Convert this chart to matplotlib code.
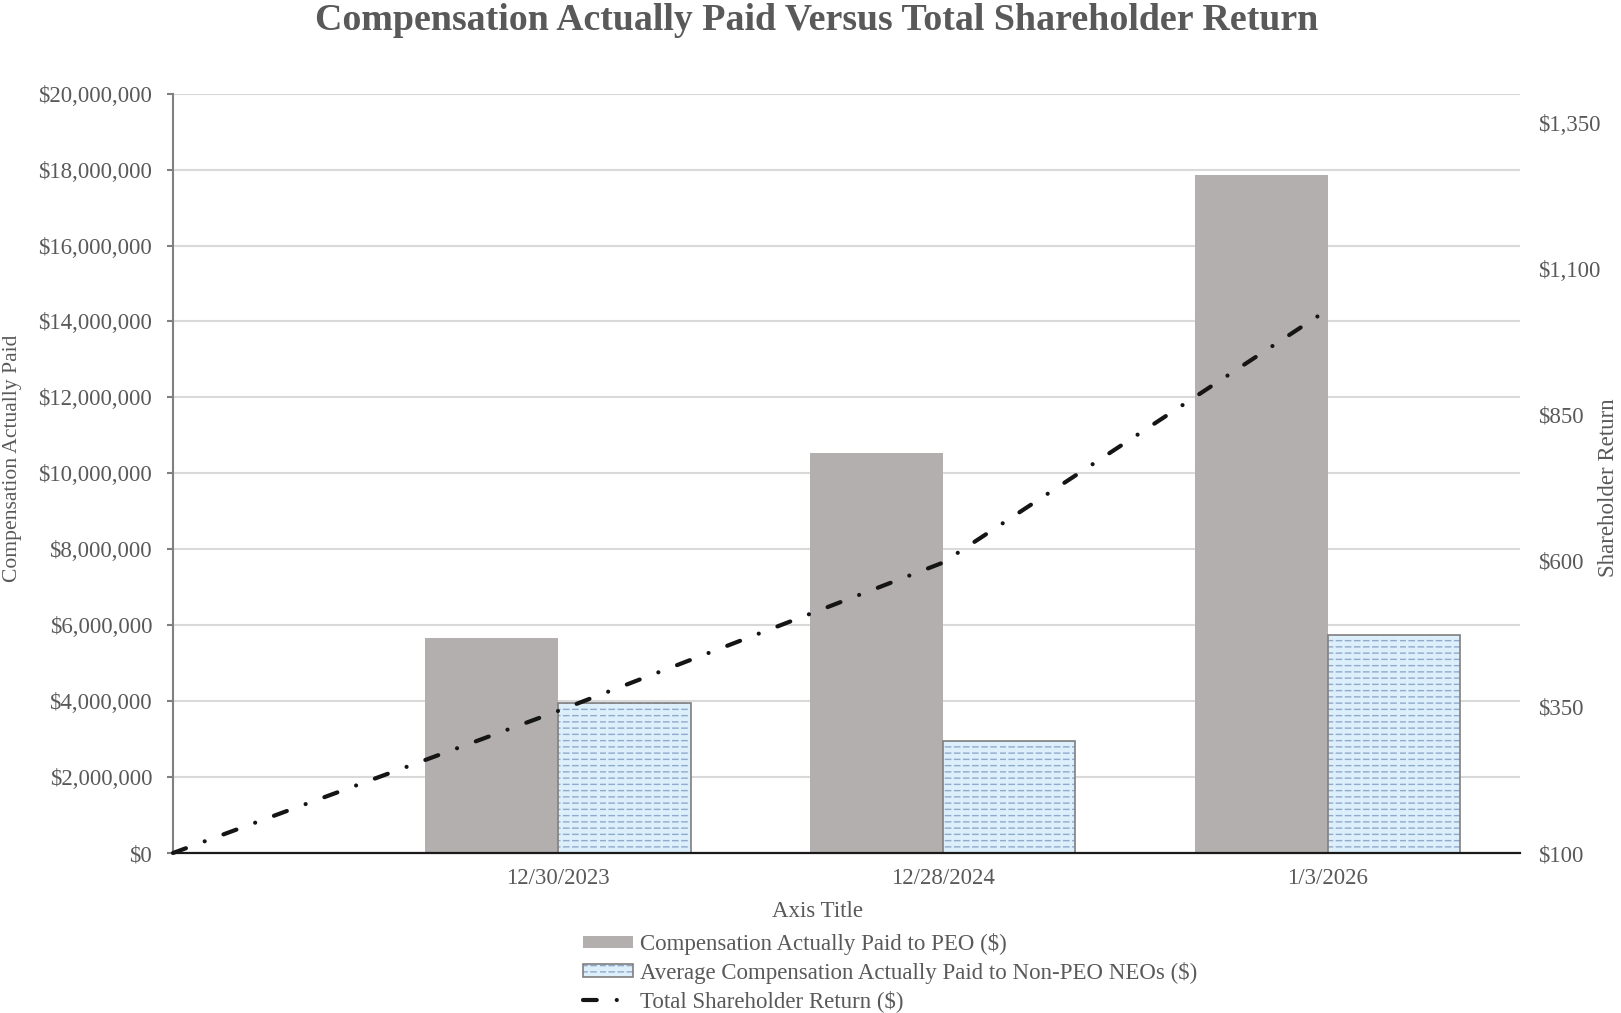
import numpy as np
import matplotlib
matplotlib.use("Agg")
import matplotlib.pyplot as plt
import matplotlib.hatch as mhatch
from matplotlib.path import Path
from matplotlib.patches import Patch
from matplotlib.lines import Line2D
from matplotlib.ticker import FuncFormatter, MultipleLocator

# ---------------- data ----------------
categories = ["12/30/2023", "12/28/2024", "1/3/2026"]
peo_cap = [5670000, 10540000, 17870000]
non_peo_cap = [3950000, 2940000, 5750000]
tsr_labels = ["Base", "12/30/2023", "12/28/2024", "1/3/2026"]
tsr_values = [100, 343, 597, 1030]

series_names = [
    "Compensation Actually Paid to PEO ($)",
    "Average Compensation Actually Paid to Non-PEO NEOs ($)",
    "Total Shareholder Return ($)",
]

# ---------------- dashed horizontal hatch ----------------
class DashedHorizontalHatch(mhatch.HatchPatternBase):
    def __init__(self, hatch, density):
        n = hatch.count('-') + hatch.count('+')
        self.num_rows = int(round(n * density * 16 / 18))
        self.num_cols = 11
        self.num_vertices = self.num_rows * self.num_cols * 2

    def set_vertices_and_codes(self, vertices, codes):
        ys = (np.arange(self.num_rows) + 0.5) / self.num_rows
        xs = np.arange(self.num_cols) / self.num_cols
        seg = 0.58 / self.num_cols
        X, Y = np.meshgrid(xs, ys)
        X = X.ravel()
        Y = Y.ravel()
        vertices[0::2, 0] = X
        vertices[0::2, 1] = Y
        vertices[1::2, 0] = X + seg
        vertices[1::2, 1] = Y
        codes[0::2] = Path.MOVETO
        codes[1::2] = Path.LINETO

try:
    _i = mhatch._hatch_types.index(mhatch.HorizontalHatch)
    mhatch._hatch_types[_i] = DashedHorizontalHatch
except Exception:
    pass

# ---------------- style ----------------
plt.rcParams['font.family'] = ['Liberation Serif', 'DejaVu Serif']
plt.rcParams['text.parse_math'] = False
plt.rcParams['hatch.linewidth'] = 1.0

TEXT = "#595959"
GRAY_BAR = "#B3AFAE"
BLUE_FILL = "#DCEFFB"
HATCH_COL = "#8FAACB"
BLUE_EDGE = "#7F7F7F"
GRID = "#D9D9D9"
FS = 16.5

fig = plt.figure(figsize=(16.21, 10.13), dpi=100)
ax = fig.add_axes([173/1621, 1-853/1013, (1520-173)/1621, (853-93.7)/1013])
ax2 = ax.twinx()

x_bar = np.arange(1, len(categories) + 1)
w = 0.345

ax.bar(x_bar - w/2, peo_cap, width=w, color=GRAY_BAR, linewidth=0, zorder=2)
ax.bar(x_bar + w/2, non_peo_cap, width=w, facecolor=BLUE_FILL, edgecolor=HATCH_COL,
       linewidth=0, hatch='---', zorder=2)
ax.bar(x_bar + w/2, non_peo_cap, width=w, facecolor='none', edgecolor=BLUE_EDGE,
       linewidth=1.2, zorder=3)

x_tsr = np.arange(len(tsr_labels))
line, = ax2.plot(x_tsr, tsr_values, color="#151515", linewidth=3.0,
                 dash_capstyle='round', solid_capstyle='round', clip_on=False, zorder=5)
line.set_dashes([3.3, 4.8, 0.01, 4.8])

# left axis
ax.set_xlim(0, 3.5)
ax.set_ylim(0, 20000000)
ax.yaxis.set_major_locator(MultipleLocator(2000000))
ax.yaxis.set_major_formatter(FuncFormatter(lambda v, p: f"${v:,.0f}"))
ax.grid(axis='y', color=GRID, linewidth=1.5, zorder=0)
ax.set_axisbelow(True)
ax.set_xticks(x_bar)
ax.set_xticklabels(categories)
ax.tick_params(axis='x', length=0, pad=11, labelsize=FS, labelcolor=TEXT)
ax.tick_params(axis='y', length=4, width=1.5, color="#808080", pad=11,
               labelsize=FS, labelcolor=TEXT)
for s in ['top', 'right']:
    ax.spines[s].set_visible(False)
ax.spines['left'].set_color("#808080")
ax.spines['left'].set_linewidth(1.5)
ax.spines['bottom'].set_color("#1a1a1a")
ax.spines['bottom'].set_linewidth(1.6)
ax.spines['bottom'].set_zorder(4)

# right axis
ax2.set_ylim(100, 1400)
ax2.set_yticks(np.arange(100, 1351, 250))
ax2.yaxis.set_major_formatter(FuncFormatter(lambda v, p: f"${v:,.0f}"))
ax2.tick_params(axis='y', length=0, pad=13, labelsize=FS, labelcolor=TEXT)
for s in ['top', 'right', 'left', 'bottom']:
    ax2.spines[s].set_visible(False)

# texts
fig.text(817/1621, 1-21/1013, "Compensation Actually Paid Versus Total Shareholder Return",
         ha='center', va='center', fontsize=27.3, fontweight='bold', color=TEXT)
fig.text(12.5/1621, 1-458/1013, "Compensation Actually Paid", rotation=90,
         ha='center', va='center', fontsize=15.6, color=TEXT)
fig.text(1609/1621, 1-488/1013, "Shareholder Return", rotation=90,
         ha='center', va='center', fontsize=FS, color=TEXT)
fig.text(817/1621, 1-911/1013, "Axis Title", ha='center', va='center',
         fontsize=FS, color=TEXT)

# legend
h1 = Patch(facecolor=GRAY_BAR, edgecolor='none', linewidth=0)
h2a = Patch(facecolor=BLUE_FILL, edgecolor=HATCH_COL, linewidth=0, hatch='---')
h2b = Patch(facecolor='none', edgecolor=BLUE_EDGE, linewidth=1.2)
h3 = Line2D([0], [0], color="#151515", linewidth=3.0, dash_capstyle='round')
h3.set_dashes([3.3, 4.8, 0.01, 4.8])
leg = fig.legend([h1, (h2a, h2b), h3], series_names, loc='upper left',
                 bbox_to_anchor=(583/1621, 1-933/1013), frameon=False,
                 fontsize=FS, handlelength=2.2, handleheight=0.47,
                 handletextpad=0.3, labelspacing=0.29, borderpad=0, borderaxespad=0)
for t in leg.get_texts():
    t.set_color(TEXT)

fig.savefig("out.png", dpi=100)
